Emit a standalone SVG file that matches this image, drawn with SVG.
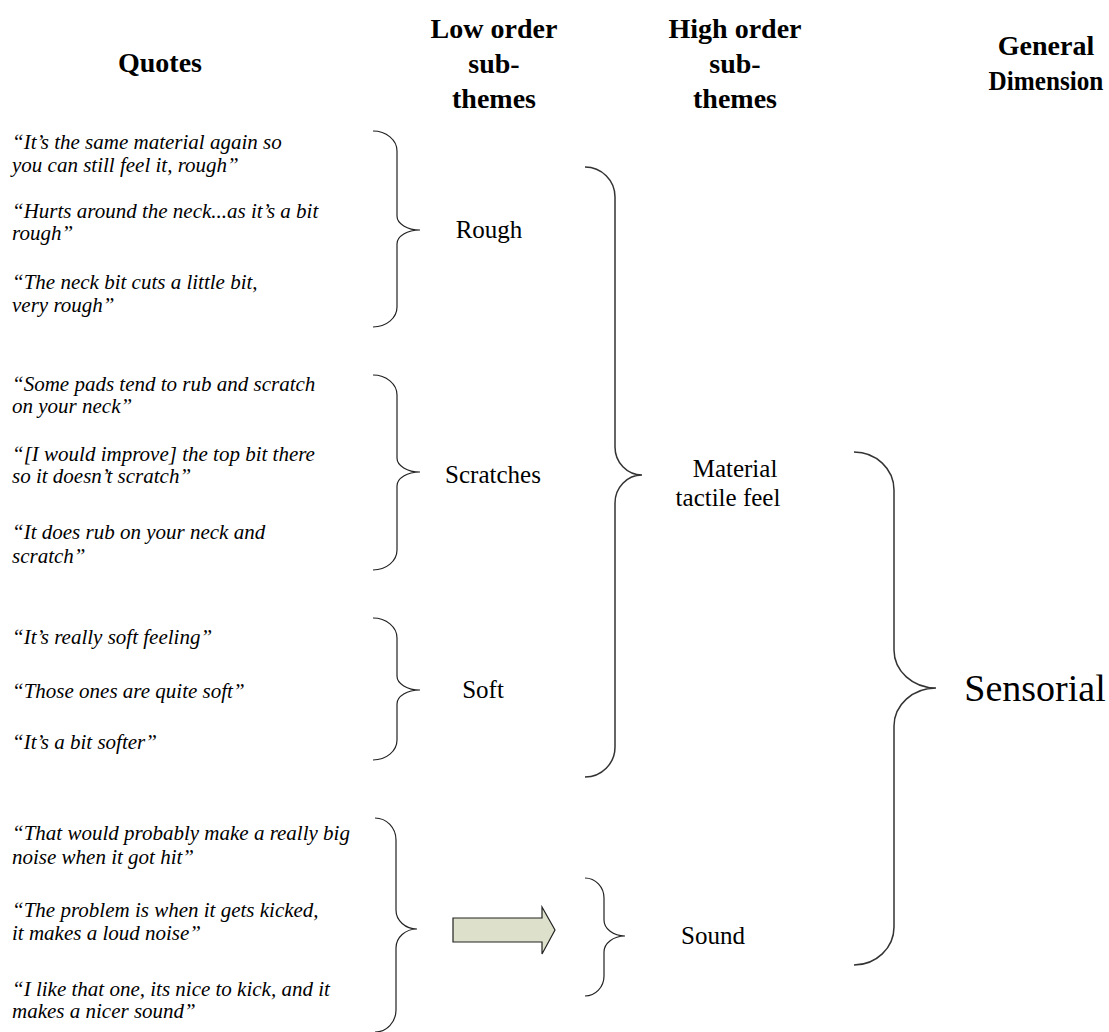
<svg xmlns="http://www.w3.org/2000/svg" width="1109" height="1032" viewBox="0 0 1109 1032">
  <style>
    .hdr { font-family: "Liberation Serif", "Times New Roman", serif; font-weight: bold; font-size: 28px; fill: #000; text-anchor: middle; }
    .quote { font-family: "Liberation Serif", "Times New Roman", serif; font-style: italic; font-size: 21px; fill: #000; }
    .lbl { font-family: "Liberation Serif", "Times New Roman", serif; font-size: 25px; fill: #000; text-anchor: middle; }
    .big { font-family: "Liberation Serif", "Times New Roman", serif; font-size: 38px; fill: #000; text-anchor: middle; }
    .brace { fill: none; stroke: #222; stroke-width: 1.2; }
    .brace-wide { fill: none; stroke: #333; stroke-width: 1.5; }
  </style>
  <rect width="1109" height="1032" fill="#fff"/>

  <!-- column headings -->
  <g id="headers">
    <text class="hdr" x="160" y="72">Quotes</text>
    <text class="hdr" x="494" y="38">Low order</text>
    <text class="hdr" x="494" y="73">sub-</text>
    <text class="hdr" x="494" y="108">themes</text>
    <text class="hdr" x="735" y="38">High order</text>
    <text class="hdr" x="735" y="73">sub-</text>
    <text class="hdr" x="735" y="108">themes</text>
    <text class="hdr" x="1046" y="55">General</text>
    <text class="hdr" transform="translate(1046,90) scale(0.9,1)" x="0" y="0">Dimension</text>
  </g>

  <!-- quotes -->
  <g id="quotes-rough">
    <text class="quote" x="12" y="149">“It’s the same material again so</text>
    <text class="quote" x="12" y="172">you can still feel it, rough”</text>
    <text class="quote" x="12" y="218">“Hurts around the neck...as it’s a bit</text>
    <text class="quote" x="12" y="240">rough”</text>
    <text class="quote" x="12" y="289">“The neck bit cuts a little bit,</text>
    <text class="quote" x="12" y="312">very rough”</text>
  </g>
  <g id="quotes-scratches">
    <text class="quote" x="12" y="391">“Some pads tend to rub and scratch</text>
    <text class="quote" x="12" y="413">on your neck”</text>
    <text class="quote" x="12" y="461">“[I would improve] the top bit there</text>
    <text class="quote" x="12" y="483">so it doesn’t scratch”</text>
    <text class="quote" x="12" y="539">“It does rub on your neck and</text>
    <text class="quote" x="12" y="563">scratch”</text>
  </g>
  <g id="quotes-soft">
    <text class="quote" x="12" y="644">“It’s really soft feeling”</text>
    <text class="quote" x="12" y="698">“Those ones are quite soft”</text>
    <text class="quote" x="12" y="749">“It’s a bit softer”</text>
  </g>
  <g id="quotes-sound">
    <text class="quote" x="12" y="840">“That would probably make a really big</text>
    <text class="quote" x="12" y="864">noise when it got hit”</text>
    <text class="quote" x="12" y="917">“The problem is when it gets kicked,</text>
    <text class="quote" x="12" y="940">it makes a loud noise”</text>
    <text class="quote" x="12" y="996">“I like that one, its nice to kick, and it</text>
    <text class="quote" x="12" y="1018">makes a nicer sound”</text>
  </g>

  <!-- theme labels -->
  <g id="node-rough"><text class="lbl" x="489" y="238">Rough</text></g>
  <g id="node-scratches"><text class="lbl" x="493" y="483">Scratches</text></g>
  <g id="node-soft"><text class="lbl" x="483" y="698">Soft</text></g>
  <g id="node-material"><text class="lbl" x="735" y="477">Material</text><text class="lbl" x="728" y="506">tactile feel</text></g>
  <g id="node-sound"><text class="lbl" x="713" y="944">Sound</text></g>
  <g id="node-sensorial"><text class="big" x="1035" y="701">Sensorial</text></g>

  <!-- braces and arrow -->
  <g id="connectors">
    <path class="brace" d="M373,131 A24,20 0 0 1 397,151 L397,216 A23,14 0 0 0 420,230 A23,14 0 0 0 397,244 L397,307 A24,20 0 0 1 373,327"/>
    <path class="brace" d="M373,375 A24,20 0 0 1 397,395 L397,458 A23,14 0 0 0 420,472 A23,14 0 0 0 397,486 L397,550 A24,20 0 0 1 373,570"/>
    <path class="brace" d="M373,618 A24,20 0 0 1 397,638 L397,676 A23,14 0 0 0 420,690 A23,14 0 0 0 397,704 L397,740 A24,20 0 0 1 373,760"/>
    <path class="brace" d="M375,818 A21,22 0 0 1 396,840 L396,910 A21,19 0 0 0 417,929 A21,19 0 0 0 396,948 L396,1010 A21,22 0 0 1 375,1032"/>
    <path class="brace-wide" d="M585,167 A30,30 0 0 1 615,197 L615,447 A27,28 0 0 0 642,475 A27,28 0 0 0 615,503 L615,747 A30,30 0 0 1 585,777"/>
    <path class="brace" d="M585,878 A19,20 0 0 1 604,898 L604,920 A21,16 0 0 0 625,936 A21,16 0 0 0 604,952 L604,976 A19,20 0 0 1 585,996"/>
    <path class="brace-wide" d="M854,452 A40,38 0 0 1 894,490 L894,650 A42,38 0 0 0 936,688 A42,38 0 0 0 894,726 L894,927 A40,38 0 0 1 854,965"/>
    <path d="M453,918 L542,918 L542,907 L555,930 L542,954 L542,942 L453,942 Z" fill="#dde0ca" stroke="#222" stroke-width="1.2"/>
  </g>
</svg>
